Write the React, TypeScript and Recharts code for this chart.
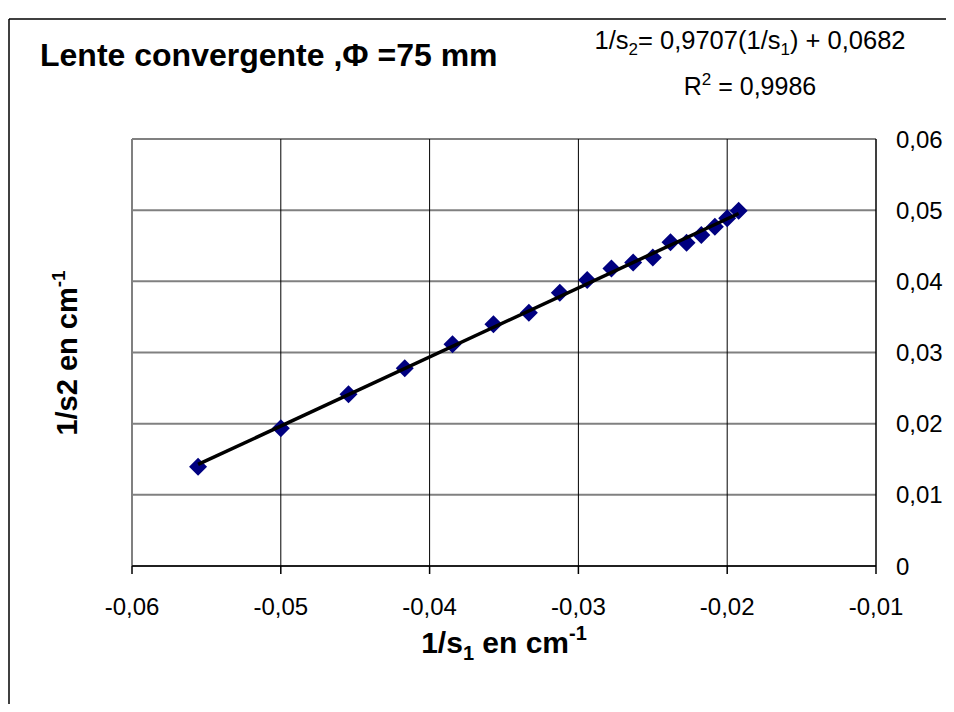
import React from 'react';
import { ScatterChart, Scatter, XAxis, YAxis, CartesianGrid, ReferenceLine } from 'recharts';

const xValues = [-0.05556, -0.05, -0.04545, -0.04167, -0.03846, -0.03571, -0.03333, -0.03125, -0.02941, -0.02778, -0.02632, -0.025, -0.02381, -0.02273, -0.02174, -0.02083, -0.02, -0.01923];
const yValues = [0.01395, 0.01935, 0.02413, 0.02778, 0.03115, 0.03396, 0.03559, 0.0384, 0.04019, 0.0418, 0.04264, 0.04335, 0.04548, 0.04541, 0.04651, 0.04768, 0.04886, 0.04993];
const xTicks = [-0.06, -0.05, -0.04, -0.03, -0.02, -0.01];
const yTicks = [0, 0.01, 0.02, 0.03, 0.04, 0.05, 0.06];
const slope = 0.9707;
const intercept = 0.0682;

const points = xValues.map((x, i) => ({ x, y: yValues[i] }));
const xMin = Math.min(...xValues);
const xMax = Math.max(...xValues);
const trend = [
  { x: xMin, y: slope * xMin + intercept },
  { x: xMax, y: slope * xMax + intercept },
];

const fmt = (v: number) => (v === 0 ? '0' : v.toFixed(2).replace('.', ','));

const Diamond = (props: any) => {
  const { cx, cy } = props;
  const r = 9;
  return (
    <polygon
      points={`${cx},${cy - r} ${cx + r},${cy} ${cx},${cy + r} ${cx - r},${cy}`}
      fill="#000080"
    />
  );
};

const W = 938;
const H = 696;
const FONT = '"Liberation Sans", Arial, sans-serif';

export default function App() {
  return (
    <div style={{ position: 'relative', width: W, height: H, fontFamily: FONT }}>
      <ScatterChart
        width={W}
        height={H}
        margin={{ top: 131, right: 10, bottom: 98, left: 124 }}
      >
        <CartesianGrid horizontal={true} vertical={false} stroke="#808080" strokeWidth={2} />
        <CartesianGrid horizontal={false} vertical={true} stroke="#000000" strokeWidth={1} />
        <ReferenceLine x={-0.06} stroke="#808080" strokeWidth={2} />
        <XAxis
          type="number"
          dataKey="x"
          domain={[-0.06, -0.01]}
          ticks={xTicks}
          tickFormatter={fmt}
          allowDataOverflow
          stroke="#000"
          strokeWidth={1.5}
          tickSize={8}
          tickMargin={24}
          height={40}
          tick={{ fill: '#000', fontSize: 24, fontFamily: FONT }}
        />
        <YAxis
          type="number"
          dataKey="y"
          orientation="right"
          domain={[0, 0.06]}
          ticks={yTicks}
          tickFormatter={fmt}
          allowDataOverflow
          stroke="#000"
          strokeWidth={1}
          tickLine={false}
          tickSize={0}
          tickMargin={20}
          width={60}
          tick={{ fill: '#000', fontSize: 24, fontFamily: FONT, textAnchor: 'start' }}
        />
        <Scatter data={points} shape={Diamond} isAnimationActive={false} />
        <Scatter
          data={trend}
          shape={() => <g />}
          line={{ stroke: '#000', strokeWidth: 3.5 }}
          isAnimationActive={false}
        />
      </ScatterChart>
      <svg
        width={W}
        height={H}
        style={{ position: 'absolute', left: 0, top: 0, pointerEvents: 'none' }}
      >
        <line x1={1} y1={11} x2={W} y2={11} stroke="#000" strokeWidth={1.5} />
        <line x1={1} y1={11} x2={1} y2={H} stroke="#000" strokeWidth={1.5} />
        <text x={32} y={58} fontSize={32} fontWeight="bold" fontFamily={FONT} fill="#000">
          Lente convergente ,Φ =75 mm
        </text>
        <text x={742} y={41} fontSize={25.5} fontFamily={FONT} fill="#000" textAnchor="middle">
          1/s<tspan fontSize={17} dy={6}>2</tspan>
          <tspan dy={-6}>= 0,9707(1/s</tspan>
          <tspan fontSize={17} dy={6}>1</tspan>
          <tspan dy={-6}>) + 0,0682</tspan>
        </text>
        <text x={742} y={87} fontSize={25} fontFamily={FONT} fill="#000" textAnchor="middle">
          R<tspan fontSize={17} dy={-10}>2</tspan>
          <tspan dy={10}> = 0,9986</tspan>
        </text>
        <text x={496} y={645} fontSize={30} fontWeight="bold" fontFamily={FONT} fill="#000" textAnchor="middle">
          1/s<tspan fontSize={20} dy={7}>1</tspan>
          <tspan dy={-7}> en cm</tspan>
          <tspan fontSize={20} dy={-13}>-1</tspan>
        </text>
        <text
          x={0}
          y={0}
          fontSize={29}
          fontWeight="bold"
          fontFamily={FONT}
          fill="#000"
          textAnchor="middle"
          transform="translate(69,345) rotate(-90)"
        >
          1/s2 en cm<tspan fontSize={19} dy={-12}>-1</tspan>
        </text>
      </svg>
    </div>
  );
}
